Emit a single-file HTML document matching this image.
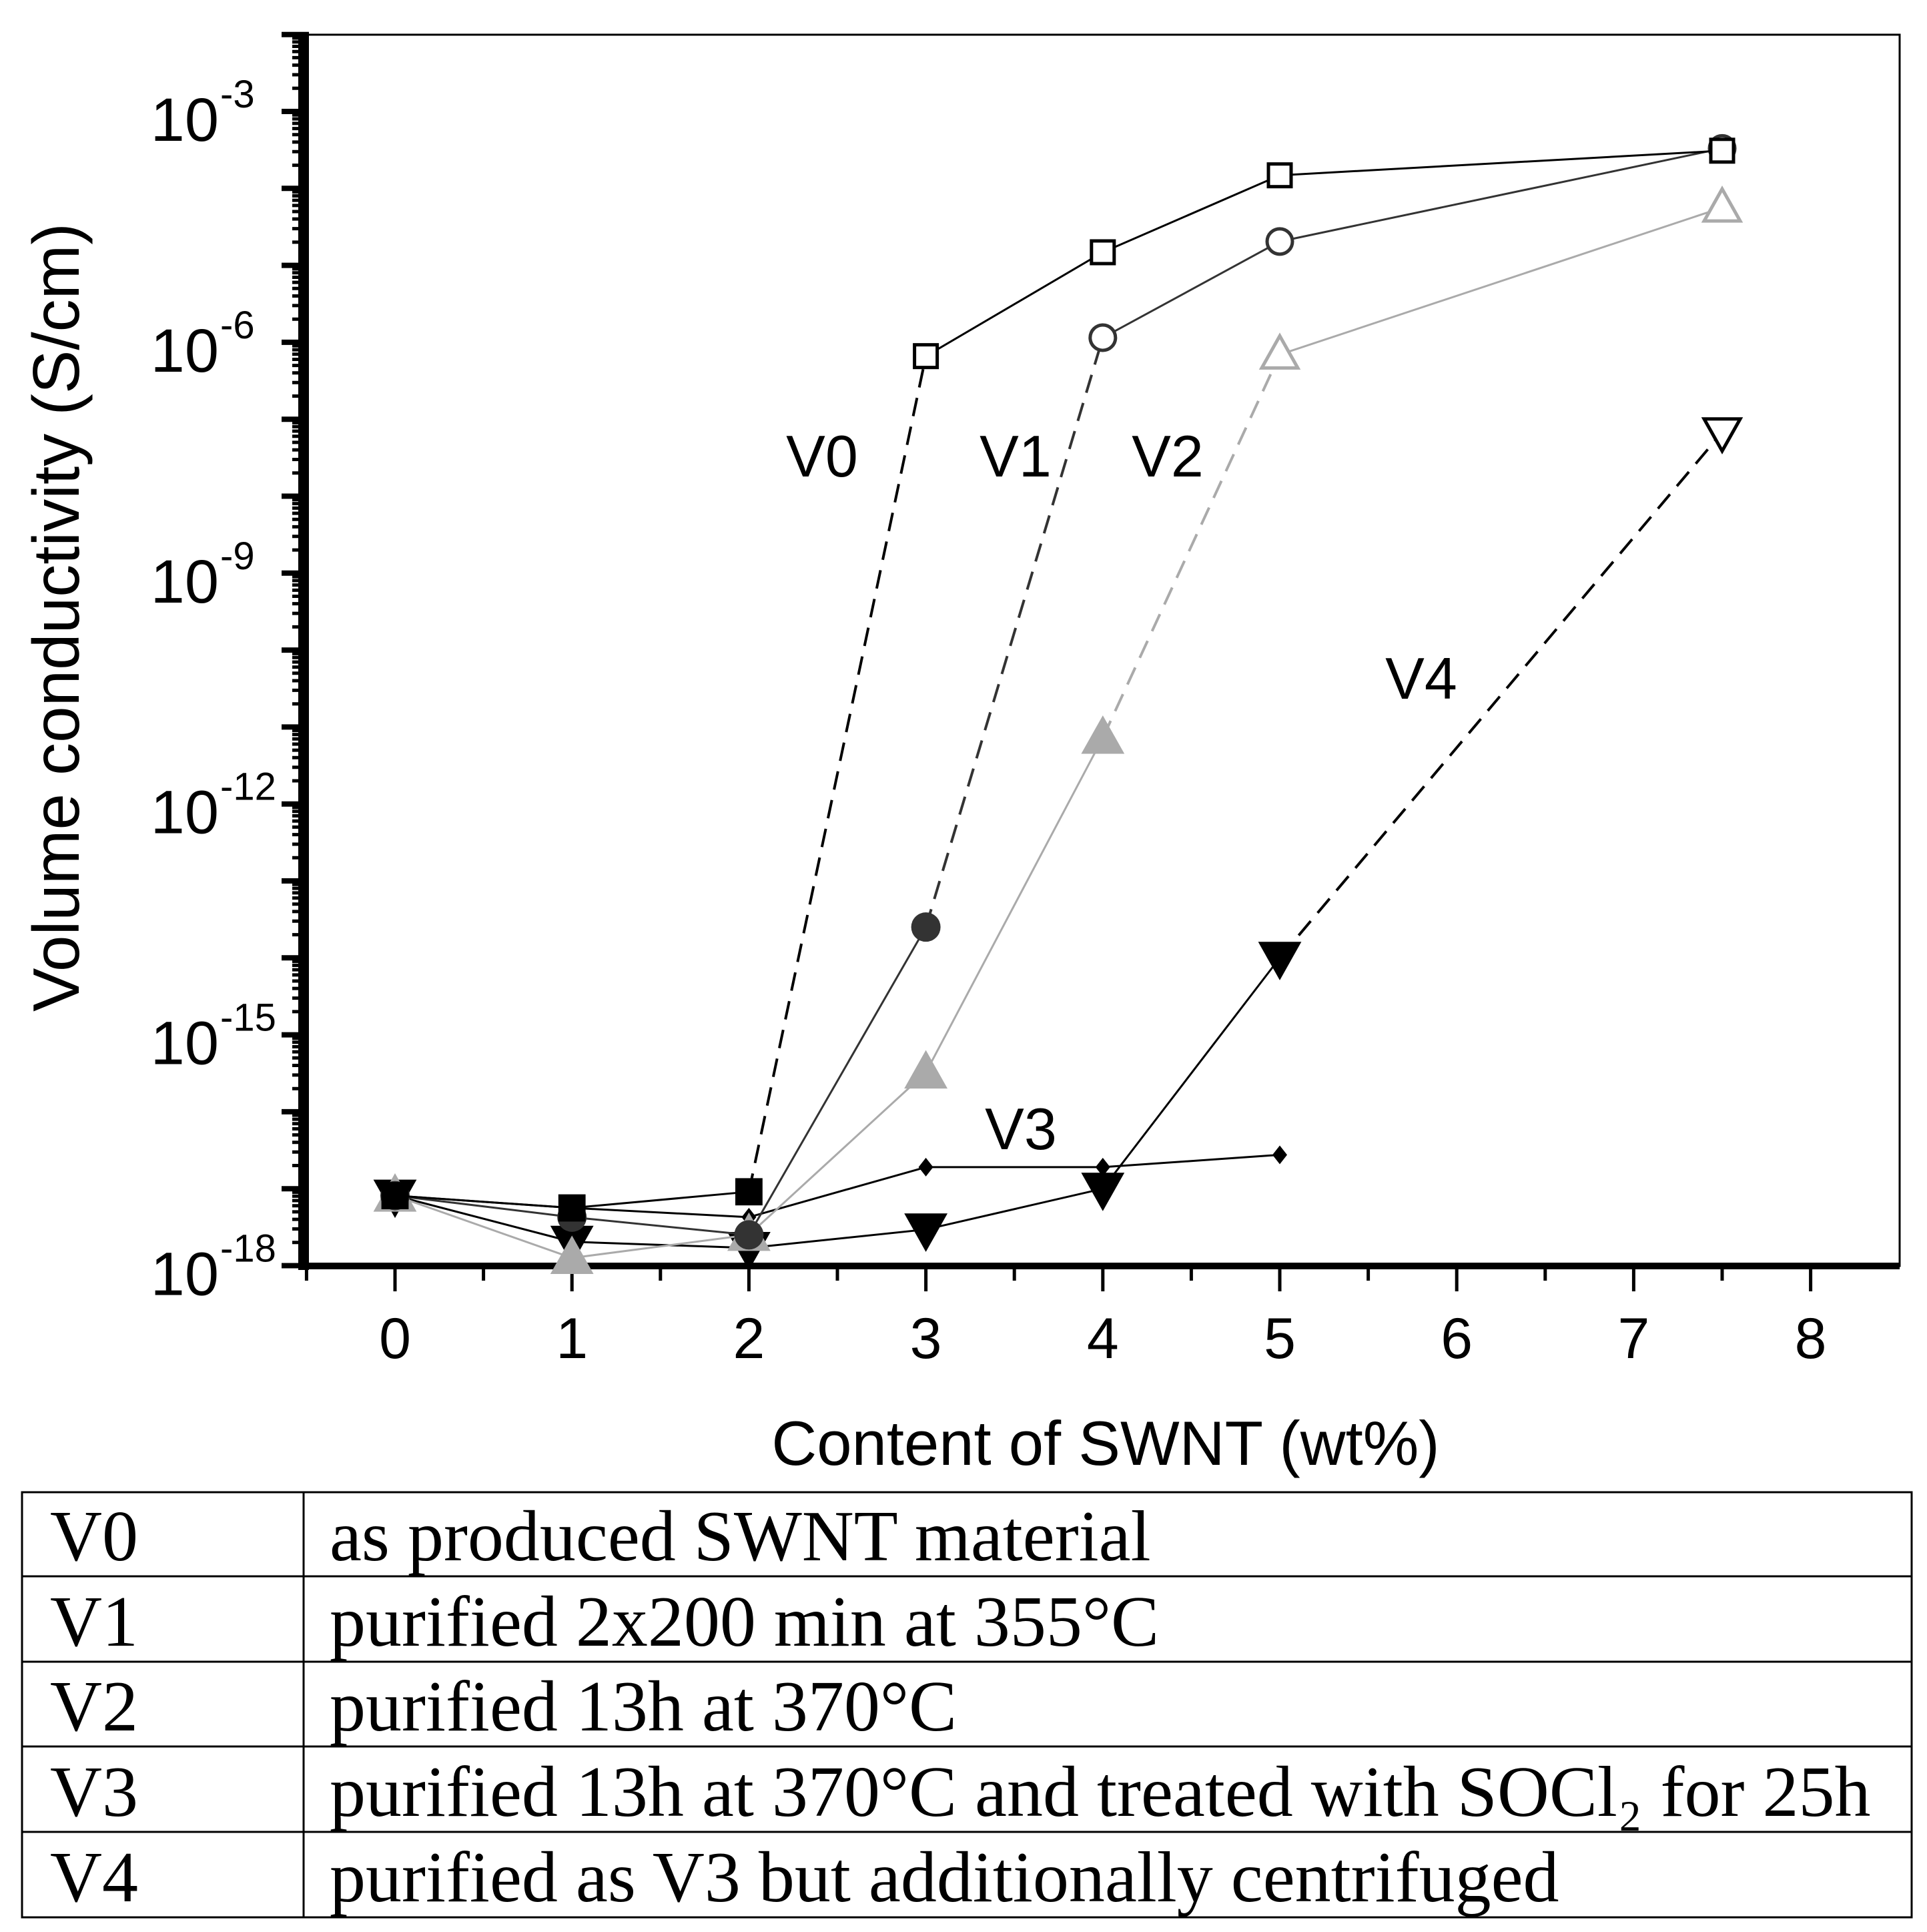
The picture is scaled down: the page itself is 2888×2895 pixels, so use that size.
<!DOCTYPE html>
<html><head><meta charset="utf-8"><style>
html,body{margin:0;padding:0;background:#fff;}
svg{display:block;}
</style></head><body>
<svg id="chart" width="2888" height="2895" viewBox="0 0 2888 2895" xmlns="http://www.w3.org/2000/svg">
<g id="plot"></g>
<text transform="translate(118,925) rotate(-90)" text-anchor="middle" font-family="Liberation Sans, sans-serif" font-size="98">Volume conductivity (S/cm)</text>
<text x="1657" y="2195" text-anchor="middle" font-family="Liberation Sans, sans-serif" font-size="94">Content of SWNT (wt%)</text>
<g id="legend-table"></g>
</svg>
<script>
const xCats=[0,1,2,3,4,5,7.5];
const v0=[-17.09,-17.25,-17.04,-6.18,-4.83,-3.83,-3.51];
const v1=[-17.09,-17.37,-17.6,-13.6,-5.94,-4.69,-3.48];
const v2=[-17.09,-17.9,-17.6,-15.49,-11.14,-6.16,-4.25];
const v3=[-17.09,-17.25,-17.37,-16.72,-16.72,-16.56];
const v4=[-17.09,-17.69,-17.77,-17.53,-17.0,-14.0,-7.17];
const xTicks=[0,1,2,3,4,5,6,7,8];
const yTickExps=[-3,-6,-9,-12,-15,-18];
const labels=["V0","V1","V2","V3","V4"];
const descs=["as produced SWNT material","purified 2x200 min at 355°C","purified 13h at 370°C","purified 13h at 370°C and treated with SOCl₂ for 25h","purified as V3 but additionally centrifuged"];

const NS="http://www.w3.org/2000/svg";
const X=v=>592+v*265.2;
const Y=e=>167+(-3-e)*115.3;
const L=460,R=2847,T=52,B=1897;
const plot=document.getElementById('plot');
function mk(tag,attrs,parent){const e=document.createElementNS(NS,tag);for(const k in attrs)e.setAttribute(k,attrs[k]);(parent||plot).appendChild(e);return e;}

let fr=mk('rect',{x:L,y:T,width:R-L,height:B-T,fill:'none',stroke:'#000','stroke-width':3});


let ya=mk('rect',{x:447,y:T,width:16,height:B-T+6,fill:'#000'});


let xa=mk('rect',{x:L-10,y:B-5,width:R-L+10,height:10,fill:'#000'});



for(let e=-2;e>=-18;e--){
  const y=Y(e);
  let t=mk('line',{x1:422,x2:463,y1:y,y2:y,stroke:'#000','stroke-width':8});
  
  
  if(e>-18){for(let m=2;m<=9;m++){const yy=Y(e-1+Math.log10(m));if(yy<T)continue;
    let mt=mk('line',{x1:438,x2:463,y1:yy,y2:yy,stroke:'#000','stroke-width':5});
    
    }}
}
yTickExps.forEach(e=>{
  const y=Y(e);
  let g=mk('text',{x:328,y:y+44,'text-anchor':'end','font-family':'Liberation Sans, sans-serif','font-size':92});
  g.textContent='10';
  
  
  let s=mk('text',{x:330,y:y-6,'font-family':'Liberation Sans, sans-serif','font-size':58});
  s.textContent='-'+(-e);
  
  
});
xTicks.forEach(v=>{
  let t=mk('line',{x1:X(v),x2:X(v),y1:B,y2:B+38,stroke:'#000','stroke-width':5});
  
  
  if(v<8){let m=mk('line',{x1:X(v+0.5),x2:X(v+0.5),y1:B,y2:B+22,stroke:'#000','stroke-width':5});
    
    }
  let lb=mk('text',{x:X(v),y:2035,'text-anchor':'middle','font-family':'Liberation Sans, sans-serif','font-size':86});
  lb.textContent=v;
  
  
});
let mt0=mk('line',{x1:X(-0.5),x2:X(-0.5),y1:B,y2:B+22,stroke:'#000','stroke-width':5});



function series(name,vals,color,dashIdx,thresh,marker){
  for(let i=0;i<vals.length-1;i++){
    const d=i===dashIdx;
    let l=mk('line',{x1:X(xCats[i]),y1:Y(vals[i]),x2:X(xCats[i+1]),y2:Y(vals[i+1]),stroke:color,'stroke-width':d?4:3,'stroke-dasharray':d?'28,16':'none'});
    
    
  }
  vals.forEach((v,i)=>{
    const x=X(xCats[i]),y=Y(v),open=i>=thresh;
    const fill=open?'#fff':color,sw=open?5:0,st=color;
    const s=open?1:1.2;
    let m;
    if(marker==='sq') m=mk('rect',{x:x-17*s,y:y-17*s,width:34*s,height:34*s,fill,stroke:st,'stroke-width':sw});
    else if(marker==='ci') m=mk('circle',{cx:x,cy:y,r:open?19:22,fill,stroke:st,'stroke-width':sw});
    else if(marker==='tu') m=mk('polygon',{points:`${x},${y-28*s} ${x+27*s},${y+20*s} ${x-27*s},${y+20*s}`,fill,stroke:st,'stroke-width':sw});
    else if(marker==='td') m=mk('polygon',{points:`${x-27*s},${y-20*s} ${x+27*s},${y-20*s} ${x},${y+28*s}`,fill,stroke:st,'stroke-width':sw});
    else m=mk('polygon',{points:`${x},${y-14} ${x+11},${y} ${x},${y+14} ${x-11},${y}`,fill,stroke:st,'stroke-width':sw});
    
    
  });
}
series('v3',v3,'#000',-1,99,'di');
series('v4',v4,'#000',5,6,'td');
series('v2',v2,'#aaa',4,5,'tu');
series('v1',v1,'#333',3,4,'ci');
series('v0',v0,'#000',2,3,'sq');

[['V0',1232,714],['V1',1522,714],['V2',1750,714],['V3',1530,1722],['V4',2130,1047]].forEach(a=>{
  let t=mk('text',{x:a[1],y:a[2],'text-anchor':'middle','font-family':'Liberation Sans, sans-serif','font-size':88});
  t.textContent=a[0];
  
  
});

const tb=document.getElementById('legend-table');
const rows=[2236,2362,2490,2617,2745,2873];
let tr=mk('rect',{x:33,y:2236,width:2832,height:637,fill:'none',stroke:'#000','stroke-width':3},tb);


let cl=mk('line',{x1:455,x2:455,y1:2236,y2:2873,stroke:'#000','stroke-width':3},tb);


for(let i=0;i<5;i++){
  if(i>0){let rl=mk('line',{x1:33,x2:2865,y1:rows[i],y2:rows[i],stroke:'#000','stroke-width':3},tb);
    
    }
  let a=mk('text',{x:75,y:rows[i+1]-24,'font-family':'Liberation Serif, serif','font-size':108},tb);
  a.textContent=labels[i];
  
  
  let b=mk('text',{x:494,y:rows[i+1]-24,'font-family':'Liberation Serif, serif','font-size':108},tb);
  b.textContent=descs[i];
  
  
}
</script>
</body></html>
